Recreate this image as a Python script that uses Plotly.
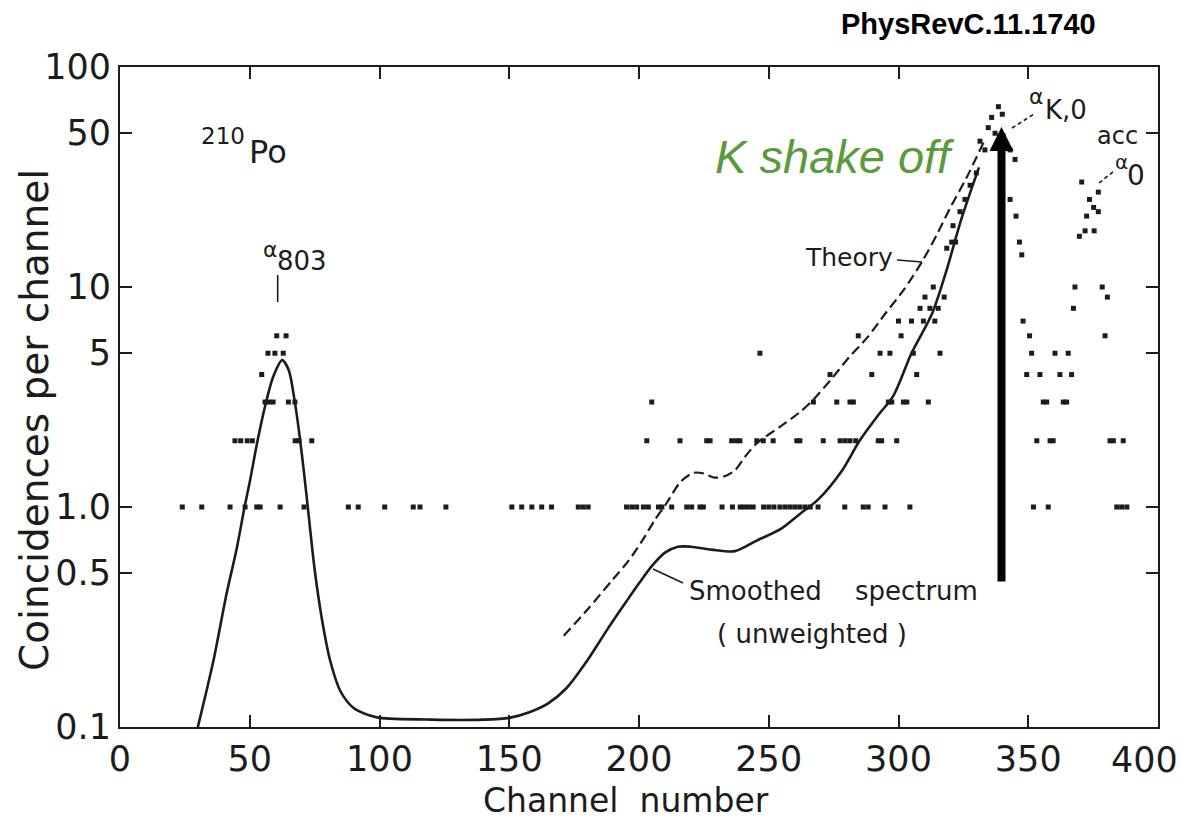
import plotly.graph_objects as go

# ---------------- data ----------------
# measured points: channel numbers for each integer count level
ch_c1 = [24, 31.5, 42.4, 48.2, 52.7, 54, 61.7, 70.9, 88, 91.8, 102, 113, 115.6, 125.6,
         151, 154.8, 158.7, 162.5, 166.3, 176.6, 178.5, 180.4, 195.2, 197.2, 199.1, 201.7,
         203.6, 207.5, 208.8, 212.6, 218.4, 220.3, 223.5, 224.8, 232, 236, 239, 240.5,
         242.2, 244, 248, 250, 252, 254.3, 256.3, 258.2, 260.1, 262, 264, 266, 269,
         279.3, 286.4, 288.3, 294.8, 304.4, 352, 357.7, 384.1, 386, 388]
ch_c2 = [44.3, 46.5, 49, 51, 67.5, 69, 73.9, 203, 215.8, 226.1, 227.4, 235.7, 237.6, 238.9,
         245.4, 247.9, 251.7, 260.8, 262, 271, 277.5, 279.4, 281.3, 283.5, 292.2, 293.5,
         299.3, 353.3, 358.4, 359.6, 381.5, 382.8, 386.6]
ch_c3 = [55.9, 57.3, 59, 64.9, 67.4, 204.9, 267.2, 276.2, 281.3, 282.6, 296.1, 297.4,
         301.9, 303.2, 311.5, 355.8, 357.1, 363.5, 364.8]
ch_c4 = [54.6, 273.6, 289.7, 307, 349.4, 354.5, 362.2, 366.7]
ch_c5 = [57, 59.7, 62.9, 246.6, 292.9, 296.7, 305.7, 316, 351.3, 360.3, 365.4]
ch_c6 = [60.4, 64, 284.5, 301, 350.5, 379.6]
ch_c7 = [300, 305, 309.6, 314, 348]
ch_c8 = [308.3, 312.1, 315.3, 367.4]
ch_c9 = [310.2, 317.6, 380.5]
ch_c10 = [313.4, 368, 378.5]
# higher-count points (K peak and acc alpha0 peak)
hi_channel = [318.6, 320.5, 322, 321, 323.7, 325.6, 327.6, 330, 331.4, 333.3, 334.6, 335.9,
              337.2, 338.5, 340, 343, 344.9, 343, 345.3, 346.6, 347.5,
              369.7, 370.6, 371.9, 372.5, 373.6, 375.2, 375.4, 377, 377]
hi_count = [15, 16, 16, 19, 22, 25, 29, 33, 46, 42, 53, 59,
            50, 66, 61, 42, 38, 25, 21, 16, 14,
            17, 30, 18, 21, 25, 23, 18, 22, 27]

# smoothed spectrum (solid curve)
smooth_x = [30, 36, 41, 45, 48, 50, 53, 56, 59, 62.5, 65, 67, 69, 71, 73, 75, 78, 81, 85,
            90, 96, 100, 120, 140, 150, 158, 165, 172, 180, 188, 195, 200, 205, 210, 215,
            220, 228, 237, 245, 255, 262, 269, 278, 285, 292, 298, 305, 313, 318.6, 324, 331]
smooth_y = [0.1, 0.2, 0.4, 0.65, 1.0, 1.3, 2.0, 2.9, 3.9, 4.65, 4.2, 3.2, 2.2, 1.4, 0.85,
            0.52, 0.3, 0.2, 0.145, 0.122, 0.113, 0.11, 0.108, 0.108, 0.11, 0.117, 0.128,
            0.15, 0.2, 0.28, 0.37, 0.45, 0.54, 0.62, 0.66, 0.66, 0.64, 0.63, 0.70, 0.80,
            0.93, 1.08, 1.45, 2.0, 2.6, 3.2, 5.0, 7.6, 12, 20, 35]

# theory (dashed curve)
theory_x = [171, 180, 190, 196, 201.5, 206, 210.6, 216, 221, 225, 229, 233, 237, 241, 245.4,
            254, 262, 267, 274, 281, 288, 295, 302, 309, 315, 320, 326, 333]
theory_y = [0.26, 0.34, 0.47, 0.57, 0.71, 0.87, 1.04, 1.3, 1.43, 1.42, 1.36, 1.38, 1.47,
            1.7, 1.95, 2.3, 2.7, 3.06, 3.8, 4.8, 5.9, 7.6, 9.7, 13, 17.5, 23, 31, 46]

x_ticks = [0, 50, 100, 150, 200, 250, 300, 350, 400]
x_ticktext = ["0", "50", "100", "150", "200", "250", "300", "350", ""]
x_last_label = "400"
y_ticks = [0.1, 0.5, 1, 5, 10, 50, 100]
y_ticktext = ["0.1", "0.5", "1.0", "5", "10", "50", "100"]

# ---------------- figure ----------------
INK = "#1c1c1c"
FONT = "DejaVu Sans"
L, R, T, B = 120, 1158, 67, 727


def px(xp):
    return (xp - L) / (R - L)


def py(yp):
    return (B - yp) / (B - T)


pts_x, pts_y = [], []
for cnt, arr in [(1, ch_c1), (2, ch_c2), (3, ch_c3), (4, ch_c4), (5, ch_c5), (6, ch_c6),
                 (7, ch_c7), (8, ch_c8), (9, ch_c9), (10, ch_c10)]:
    pts_x += arr
    pts_y += [cnt] * len(arr)
pts_x += hi_channel
pts_y += hi_count

fig = go.Figure()
fig.add_trace(go.Scatter(x=smooth_x, y=smooth_y, mode="lines",
                         line=dict(color=INK, width=2.6, shape="spline", smoothing=0.8),
                         hoverinfo="skip", showlegend=False))
fig.add_trace(go.Scatter(x=theory_x, y=theory_y, mode="lines",
                         line=dict(color=INK, width=2.2, dash="10px,5px", shape="spline", smoothing=0.8),
                         hoverinfo="skip", showlegend=False))
fig.add_trace(go.Scatter(x=pts_x, y=pts_y, mode="markers",
                         marker=dict(symbol="square", size=5, color=INK),
                         showlegend=False))

axis_common = dict(showgrid=False, zeroline=False, showline=True, linecolor=INK, linewidth=2,
                   mirror="ticks", ticks="inside", ticklen=12, tickwidth=2, tickcolor=INK,
                   tickfont=dict(family=FONT, size=35, color=INK))

fig.update_xaxes(range=[0, 400], tickvals=x_ticks, ticktext=x_ticktext, ticklabelstandoff=0,
                 ticklabeloverflow="allow", **axis_common)
fig.update_yaxes(type="log", range=[-1, 2], tickvals=y_ticks, ticktext=y_ticktext,
                 ticklabelstandoff=0, ticklabeloverflow="allow", **axis_common)

ann = []


def text(t, xp, yp, size, xanchor="center", yanchor="middle", family=FONT, color=INK):
    ann.append(dict(text=t, x=px(xp), y=py(yp), xref="paper", yref="paper", showarrow=False,
                    xanchor=xanchor, yanchor=yanchor,
                    font=dict(family=family, size=size, color=color)))


# last x tick label, nudged left so it stays inside the picture
ann.append(dict(text=x_last_label, x=1.0, y=0, xref="paper", yref="paper", showarrow=False,
                xanchor="right", yanchor="top", xshift=22, yshift=-11,
                font=dict(family=FONT, size=35, color=INK)))

text("<b>PhysRevC.11.1740</b>", 968, 24, 29, family="Liberation Sans", color="#000000")
text("<i>K shake off</i>", 713, 156, 47, xanchor="left", family="Liberation Sans", color="#5a9a3c")
text("210", 223, 136, 23)
text("Po", 268, 152, 32)
text("α", 270, 250, 22)
text("803", 302, 261, 26)
text("Theory", 849, 257, 25)
text("Smoothed\u00a0\u00a0\u00a0\u00a0spectrum", 687, 591, 26, xanchor="left")
text("(\u00a0unweighted\u00a0)", 715, 634, 26, xanchor="left")
text("α", 1036, 97, 22)
text("K,0", 1066, 110, 26)
text("acc", 1117, 136, 24)
text("α", 1121, 162, 20)
text("0", 1136, 175, 28)
text("Channel\u00a0\u00a0number", 626, 800, 33)
ann.append(dict(text="Coincidences per channel", x=px(34), y=py(420), xref="paper", yref="paper",
                showarrow=False, textangle=-90, xanchor="center", yanchor="middle",
                font=dict(family=FONT, size=39, color=INK)))
# black arrow
ann.append(dict(text="", x=px(1001.5), y=py(127), xref="paper", yref="paper", showarrow=True,
                ax=0, ay=583 - 127, arrowhead=2, arrowsize=0.6, arrowwidth=8,
                arrowcolor="#000000", standoff=0))

shapes = []


def seg(x0, y0, x1, y1, dash="solid", w=1.6):
    shapes.append(dict(type="line", xref="paper", yref="paper", x0=px(x0), y0=py(y0),
                       x1=px(x1), y1=py(y1), line=dict(color=INK, width=w, dash=dash)))


seg(277.7, 275, 277.7, 302)
seg(897, 260, 922, 262)
seg(683, 583, 653, 569)
seg(1012, 128, 1034, 114, dash="4px,3px")
seg(1099, 183, 1114, 171, dash="4px,3px")

fig.update_layout(width=1186, height=822, margin=dict(l=L, r=1186 - R, t=T, b=822 - B, autoexpand=False),
                  paper_bgcolor="white", plot_bgcolor="white", annotations=ann, shapes=shapes,
                  showlegend=False)

fig.write_html("out.html")
